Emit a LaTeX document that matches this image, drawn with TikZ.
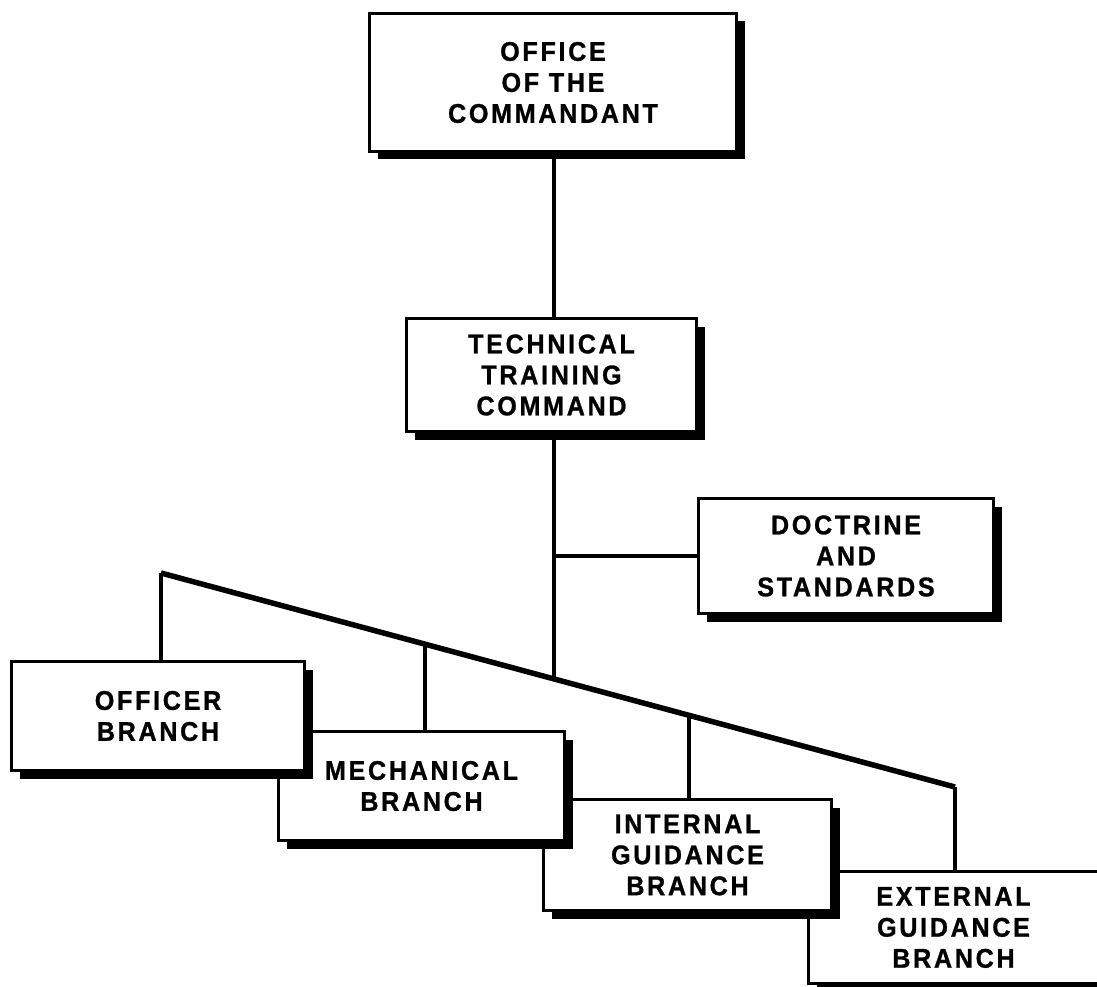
\documentclass[tikz,border=0pt]{standalone}
\usepackage{fontspec}
\setmainfont{Liberation Sans}[LetterSpace=10, FakeStretch=0.93, BoldFeatures={FakeBold=1}]
\usetikzlibrary{shadows}
\tikzset{
  unit/.style={draw, line width=3pt, fill=white, rectangle, inner sep=0pt,
    align=center, font=\fontsize{27}{31}\selectfont\bfseries,
    drop shadow={shadow xshift=8pt, shadow yshift=-8pt, fill=black, opacity=1}},
  link/.style={line width=4.5pt, line join=miter},
  bar/.style={line width=5.5pt, line join=miter},
}
\begin{document}
\begin{tikzpicture}[x=1pt, y=-1pt]
  \useasboundingbox (0,0) rectangle (1097,987);
  \fill[white] (0,0) rectangle (1097,987);
  \clip (0,0) rectangle (1097,987);

  % headquarters chain
  \node[unit, minimum width=367pt, minimum height=138pt] (com) at (553,82.5)
    {OFFICE\\OF THE\\COMMANDANT};
  \node[unit, minimum width=290pt, minimum height=113pt] (ttc) at (551.5,375)
    {TECHNICAL\\TRAINING\\COMMAND};
  \node[unit, minimum width=295pt, minimum height=115pt] (doc) at (846,556)
    {DOCTRINE\\AND\\STANDARDS};

  % branches, each one overlapping the next
  \node[unit, minimum width=290pt, minimum height=112pt] (ext) at (953.5,927.5)
    {EXTERNAL\\GUIDANCE\\BRANCH};
  \node[unit, minimum width=288pt, minimum height=111pt] (int) at (687.5,855)
    {INTERNAL\\GUIDANCE\\BRANCH};
  \node[unit, minimum width=286pt, minimum height=109pt] (mec) at (421.5,786)
    {MECHANICAL\\BRANCH};
  \node[unit, minimum width=293pt, minimum height=109pt] (off) at (158,716)
    {OFFICER\\BRANCH};

  % sloping distribution bar and its junctions
  \coordinate (sl) at (161,573);
  \coordinate (sr) at (955,787);
  \coordinate (jt) at (554,678.6);
  \coordinate (jm) at (425,644.5);
  \coordinate (ji) at (689,715.3);

  \draw[link] (jt |- com.south) -- (jt |- ttc.north);
  \draw[link] (jt |- ttc.south) -- (jt);
  \draw[link] (jt |- doc.west) -- (doc.west);
  \draw[link] (sl |- off.north) -- (sl);
  \draw[bar] (sl) -- (sr);
  \draw[link] (sr) -- (sr |- ext.north);
  \draw[link] (jm) -- (jm |- mec.north);
  \draw[link] (ji) -- (ji |- int.north);
\end{tikzpicture}
\end{document}
